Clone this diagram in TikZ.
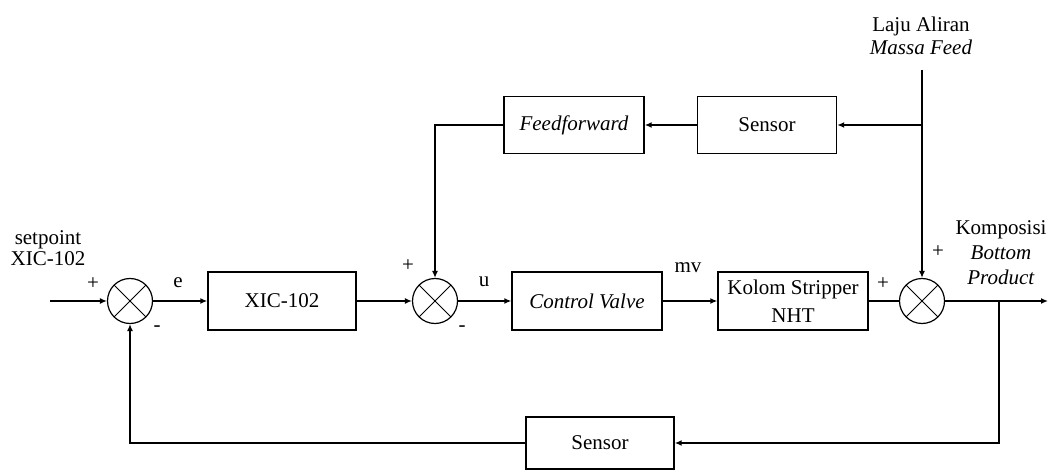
\documentclass[tikz,border=0pt]{standalone}
\usepackage{fontspec}
\setmainfont{Liberation Serif}
\usetikzlibrary{positioning,arrows.meta,calc}
\tikzset{
  blok/.style={draw, line width=0.7pt, minimum height=29pt, inner sep=0pt},
  sumjunc/.style={circle, draw, line width=0.6pt, minimum size=22.5pt, inner sep=0pt,
    path picture={\draw[line width=0.5pt] (path picture bounding box.north west) -- (path picture bounding box.south east)
      (path picture bounding box.north east) -- (path picture bounding box.south west);}},
  sinyal/.style={line width=0.7pt, -{Latex[length=3.5pt,width=3pt]}},
  garis/.style={line width=0.7pt}
}

\begin{document}
\begin{tikzpicture}[x=0.5pt, y=-0.5pt, font=\fontsize{10.5}{12.5}\selectfont]
        \useasboundingbox (0,0) rectangle (1049,470);
        % jalur utama
        \node[sumjunc] (s1) at (130,301) {};
        \node[blok, minimum width=74pt] (xic) at (282,301) {XIC-102};
        \node[sumjunc] (s2) at (435,301) {};
        \node[blok, minimum width=75pt] (cv) at (587,301) {\textit{Control Valve}};
        \node[blok, minimum width=75pt, align=center, font=\fontsize{10.5}{14}\selectfont] (kolom) at (793,301) {Kolom Stripper\\NHT};
        \node[sumjunc] (s3) at (922,301) {};
        % feedforward dan sensor
        \node[blok, minimum width=70pt, minimum height=28.5pt] (ff) at (574,125) {\textit{Feedforward}};
        \node[blok, minimum width=69.5pt, minimum height=28.5pt] (sensa) at (767,125) {Sensor};
        \node[blok, minimum width=74pt, minimum height=26pt] (sensb) at (600,443) {Sensor};
        \coordinate (masuk) at (50,301);
        \coordinate (keluar) at (1048,301);
        \coordinate (cab) at (999,301);
        \coordinate (atas) at (922,70);
        % label
        \node[align=center, font=\fontsize{10.5}{10.5}\selectfont] (sp) at (48,248) {setpoint\\XIC-102};
        \node[align=center, font=\fontsize{10.5}{11.5}\selectfont] (laju) at (921,36) {Laju Aliran\\\textit{Massa Feed}};
        \node[align=center] (komp) at (1001,253) {Komposisi\\\textit{Bottom}\\\textit{Product}};
        \node (p1) at (93,284) {+};
        \node (e) at (178,283) {e};
        \node (m1) at (157,329) {-};
        \node (p2) at (408,266) {+};
        \node (u) at (484,282) {u};
        \node (m2) at (462,329) {-};
        \node (mv) at (688,268) {mv};
        \node (p3) at (883,284) {+};
        \node (p4) at (938,252) {+};
        % sinyal
        \draw[sinyal] (masuk) -- (s1);
        \draw[sinyal] (s1) -- (xic);
        \draw[sinyal] (xic) -- (s2);
        \draw[sinyal] (s2) -- (cv);
        \draw[sinyal] (cv) -- (kolom);
        \draw[garis] (kolom) -- (s3);
        \draw[sinyal] (s3) -- (keluar);
        \draw[sinyal] (atas) -- (s3);
        \draw[sinyal] (atas |- sensa) -- (sensa);
        \draw[sinyal] (sensa) -- (ff);
        \draw[sinyal] (ff) -| (s2);
        \draw[sinyal] (cab) |- (sensb);
        \draw[sinyal] (sensb) -| (s1);
\end{tikzpicture}
\end{document}
